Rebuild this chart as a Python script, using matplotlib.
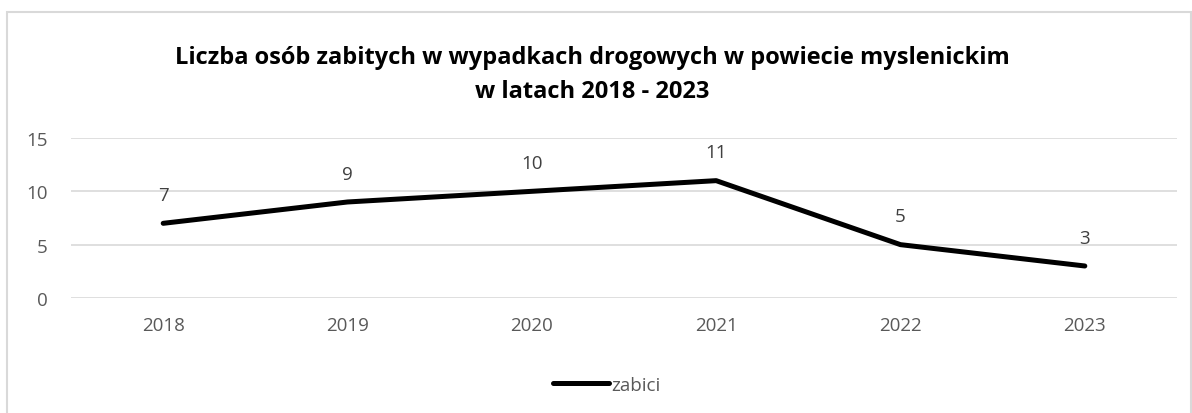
import matplotlib.pyplot as plt
from matplotlib.patches import Rectangle

# dane
lata = ['2018', '2019', '2020', '2021', '2022', '2023']
zabici = [7, 9, 10, 11, 5, 3]

plt.rcParams['font.family'] = ['Open Sans', 'DejaVu Sans']

fig = plt.figure(figsize=(11.92, 4.14), dpi=100)
ax = fig.add_axes([0.0596, 0.2778, 0.9278, 0.3865])

x = range(len(lata))
line, = ax.plot(x, zabici, color='black', lw=3.6, solid_capstyle='round',
                solid_joinstyle='round', label='zabici')

# etykiety danych
for xi, v in zip(x, zabici):
    ax.annotate(str(v), (xi, v), xytext=(0, 14), textcoords='offset points',
                ha='center', va='bottom', fontsize=13.5, color='#404040')

ax.set_xlim(-0.5, len(lata) - 0.5)
ax.set_ylim(0, 15)
ax.set_yticks([0, 5, 10, 15])
ax.set_xticks(list(x))
ax.set_xticklabels(lata)
ax.tick_params(length=0, labelsize=13.5, labelcolor='#595959')
ax.tick_params(axis='y', pad=17)
ax.tick_params(axis='x', pad=13)
ax.grid(axis='y', color='#d9d9d9', lw=1.2)
ax.set_axisbelow(True)
for s in ax.spines.values():
    s.set_visible(False)

fig.text(0.497, 0.818, 'Liczba osób zabitych w wypadkach drogowych w powiecie myslenickim\nw latach 2018 - 2023',
         ha='center', va='center', fontsize=17, fontweight='bold', color='black', linespacing=1.55)

fig.legend(handles=[line], loc='center', bbox_to_anchor=(0.509, 0.068), frameon=False,
           fontsize=13.5, labelcolor='#595959', handlelength=3.0, handletextpad=0.1)

# ramka wykresu
fig.patches.append(Rectangle((0.006, -0.01), 0.993, 0.978, transform=fig.transFigure,
                             fill=False, edgecolor='#d9d9d9', lw=1.5))

fig.savefig('out.png', dpi=100)
